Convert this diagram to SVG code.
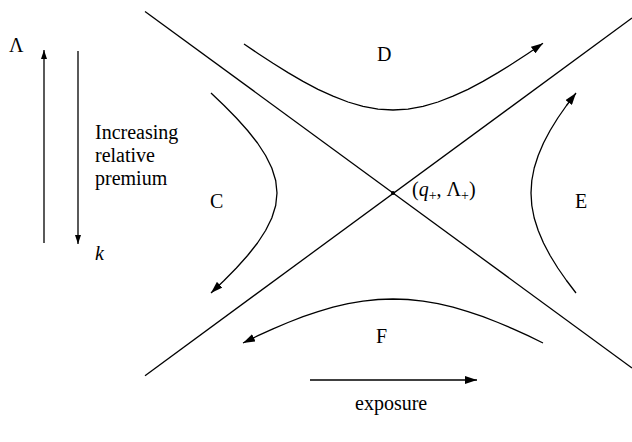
<svg xmlns="http://www.w3.org/2000/svg" width="632" height="442" viewBox="0 0 632 442">
<style>
.ln{fill:none;stroke:#000;stroke-width:1.3;stroke-linejoin:round}
.t{font-family:"Liberation Serif","Times New Roman",serif;font-size:20px;fill:#000}
.i{font-style:italic}
</style>
<defs>
<marker id="ah" markerUnits="userSpaceOnUse" markerWidth="12" markerHeight="8" refX="12" refY="4" orient="auto" viewBox="0 0 12 8">
<path d="M0,0 L12,4 L0,8 z" fill="#000"/>
</marker>
<marker id="as" markerUnits="userSpaceOnUse" markerWidth="9" markerHeight="6" refX="9" refY="3" orient="auto" viewBox="0 0 9 6">
<path d="M0,0 L9,3 L0,6 z" fill="#000"/>
</marker>
</defs>
<rect width="632" height="442" fill="#fff"/>
<g id="asymptotes">
<line class="ln" x1="145" y1="11.4" x2="632" y2="368"/>
<line class="ln" x1="145" y1="375.7" x2="632" y2="18"/>
<circle cx="393" cy="193" r="2" fill="#000"/>
</g>
<g id="connectors">
<polyline id="curve-D" class="ln" marker-end="url(#ah)" points="244,44 258,53.5 273,63.3 288,72.6 303,81.4 318,89.3 333,96.2 348,102 363,106.4 378,109.1 393,110 408,109.1 423,106.4 438,102 453,96.2 468,89.3 483,81.4 498,72.6 513,63.3 528,53.5 543,43.3"/>
<polyline id="curve-F" class="ln" marker-end="url(#ah)" points="543,343 528,335.7 513,328.8 498,322.5 483,316.7 468,311.6 453,307.2 438,303.7 423,301.1 408,299.5 393,299 378,299.5 363,301.1 348,303.7 333,307.2 318,311.6 303,316.7 288,322.5 273,328.8 258,335.7 243,343"/>
<polyline id="curve-C" class="ln" marker-end="url(#ah)" points="211,93 224.1,105.5 236.4,118 247.6,130.5 257.5,143 265.6,155.5 271.8,168 275.7,180.5 277,193 275.7,205.5 271.8,218 265.6,230.5 257.5,243 247.6,255.5 236.4,268 224.1,280.5 211,293"/>
<polyline id="curve-E" class="ln" marker-end="url(#ah)" points="576,293 566.5,280.5 557.8,268 550.1,255.5 543.5,243 538.2,230.5 534.2,218 531.8,205.5 531,193 531.8,180.5 534.2,168 538.2,155.5 543.5,143 550.1,130.5 557.8,118 566.5,105.5 576,93"/>
<line id="arrow-lambda" class="ln" x1="44" y1="243" x2="44" y2="50" marker-end="url(#as)"/>
<line id="arrow-k" class="ln" x1="78" y1="51" x2="78" y2="244" marker-end="url(#as)"/>
<line id="arrow-exposure" class="ln" x1="310" y1="380" x2="477" y2="380" marker-end="url(#ah)"/>
</g>
<g id="label-lambda"><text class="t" x="9" y="52">Λ</text></g>
<g id="label-k"><text class="t i" x="95" y="260">k</text></g>
<g id="label-premium">
<text class="t" x="95" y="139">Increasing</text>
<text class="t" x="95" y="162">relative</text>
<text class="t" x="95" y="185">premium</text>
</g>
<g id="region-D"><text class="t" x="377" y="61">D</text></g>
<g id="region-C"><text class="t" x="210" y="208">C</text></g>
<g id="region-E"><text class="t" x="575" y="208">E</text></g>
<g id="region-F"><text class="t" x="376" y="343">F</text></g>
<g id="label-point"><text class="t" x="412" y="196">(<tspan class="i">q</tspan><tspan font-size="14" dy="4">+</tspan><tspan dy="-4">, Λ</tspan><tspan font-size="14" dy="4">+</tspan><tspan dy="-4">)</tspan></text></g>
<g id="label-exposure"><text class="t" x="355" y="410" font-size="21">exposure</text></g>
</svg>
